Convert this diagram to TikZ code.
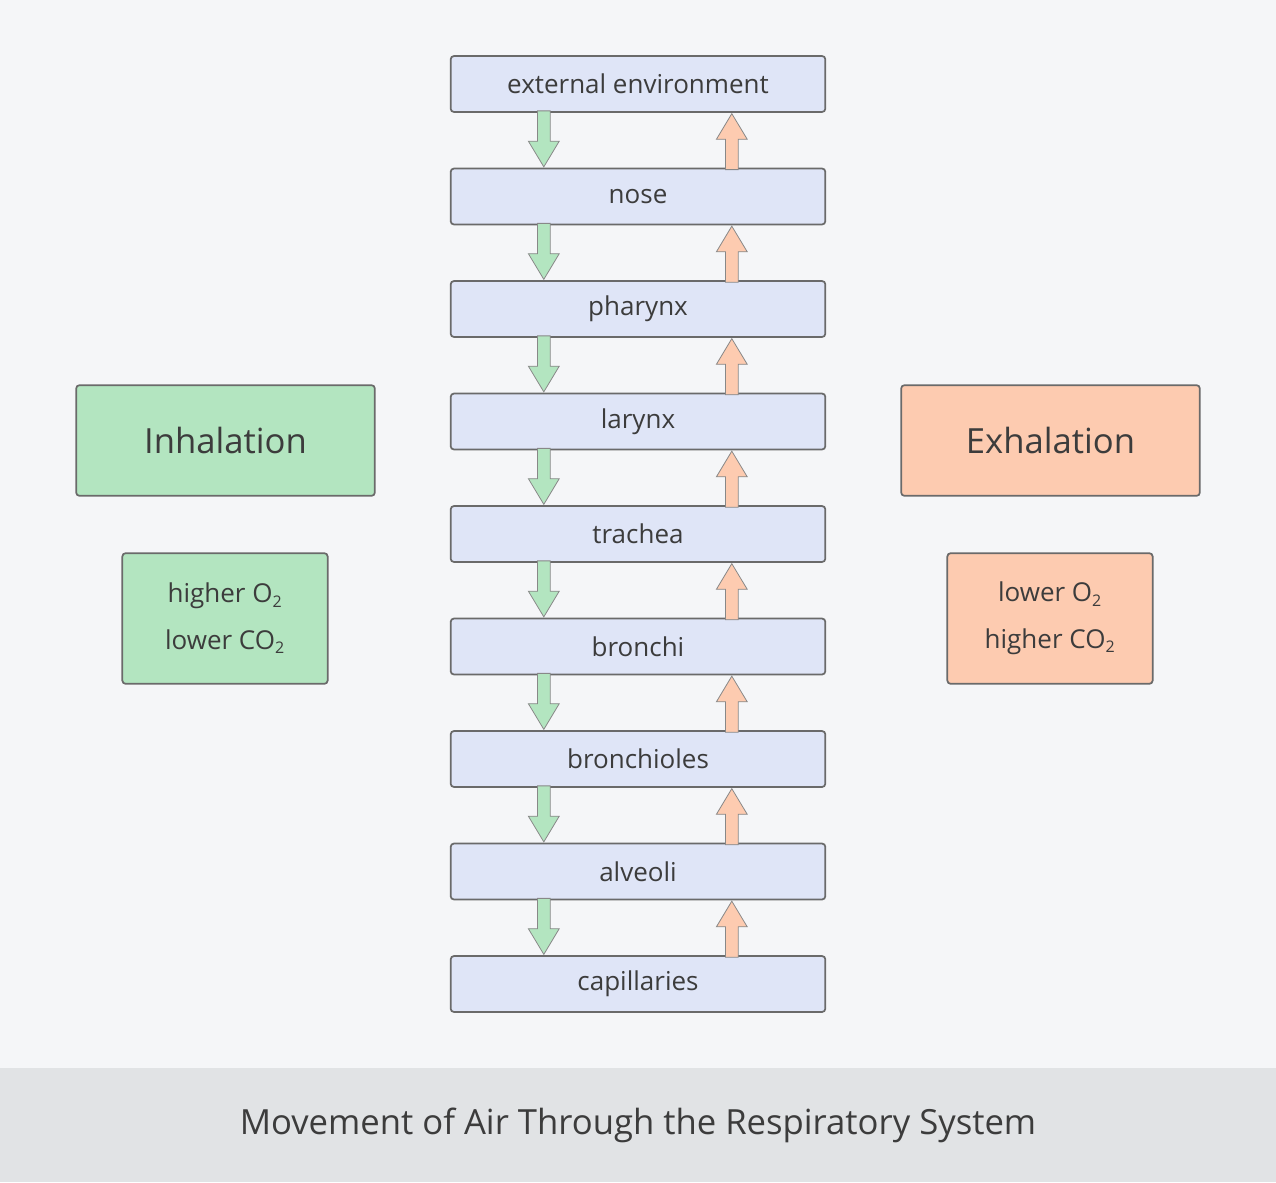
\documentclass[tikz,border=0pt]{standalone}
\usepackage{fontspec}
\setmainfont{Open Sans}
\usetikzlibrary{positioning,calc,shapes.arrows}
\definecolor{bgcol}{HTML}{F5F6F8}
\definecolor{bandcol}{HTML}{E1E3E5}
\definecolor{partcol}{HTML}{DFE5F7}
\definecolor{incol}{HTML}{B3E5C0}
\definecolor{excol}{HTML}{FDCBB0}
\definecolor{edgecol}{HTML}{6A6A6A}
\definecolor{txtcol}{HTML}{3C3C3C}

\tikzset{
part/.style={rectangle, rounded corners=2.5pt, draw=edgecol, line width=1.3pt, fill=partcol,
  minimum width=281pt, minimum height=42pt, text=txtcol, font=\fontsize{19.5}{22}\selectfont},
phase/.style={rectangle, rounded corners=2.5pt, draw=edgecol, line width=1.3pt,
  minimum width=224pt, minimum height=83pt, text=txtcol, font=\fontsize{26}{30}\selectfont},
gas/.style={rectangle, rounded corners=2.5pt, draw=edgecol, line width=1.3pt,
  minimum width=154pt, minimum height=98pt, text=txtcol, align=center,
  font=\fontsize{19.5}{35}\selectfont},
flow/.style={single arrow, draw=edgecol!80, line width=0.6pt, inner sep=4.5pt,
  minimum width=22.5pt, single arrow head extend=6.75pt, single arrow tip angle=62,
  single arrow head indent=0pt, minimum height=42pt, anchor=tip}
}
\newcommand{\subtwo}{\textsubscript{\fontsize{12}{12}\selectfont 2}}

\begin{document}
\begin{tikzpicture}[x=0.75pt, y=-0.75pt]
\fill[bgcol] (0,0) rectangle (1276,1182);
\fill[bandcol] (0,1068) rectangle (1276,1182);
\useasboundingbox (0,0) rectangle (1276,1182);

% airway, top to bottom
\foreach \name/\txt [count=\i] in {ext/external environment, nose/nose / mouth, phar/pharynx,
  lar/larynx, trach/trachea, bron/bronchi, bronl/bronchioles, alv/alveoli, cap/capillaries}
  \node[part] (\name) at (638, {84+112.5*(\i-1)}) {\txt};

% air in and out
\foreach \a/\b in {ext/nose, nose/phar, phar/lar, lar/trach, trach/bron, bron/bronl, bronl/alv, alv/cap} {
  \node[flow, fill=incol, rotate=-90] at ($(\b.north west)+(93pt*1.333/1.333*0.75/0.75*0+70.5pt,0)$) {};
  \node[flow, fill=excol, rotate=90] at ($(\a.south west)+(211.5pt,0)$) {};
}

\node[phase, fill=incol] (inh) at (225.5,440.5) {Inhalation};
\node[phase, fill=excol] (exh) at (1050.5,440.5) {Exhalation};
\node[gas, fill=incol] (ingas) at (225,618.5) {higher O\subtwo\\lower CO\subtwo};
\node[gas, fill=excol] (exgas) at (1050,618.5) {lower O\subtwo\\higher CO\subtwo};

\node[text=txtcol, font=\fontsize{26}{30}\selectfont] (title) at (638,1125)
  {Movement of Air Through the Respiratory System};
\end{tikzpicture}
\end{document}
